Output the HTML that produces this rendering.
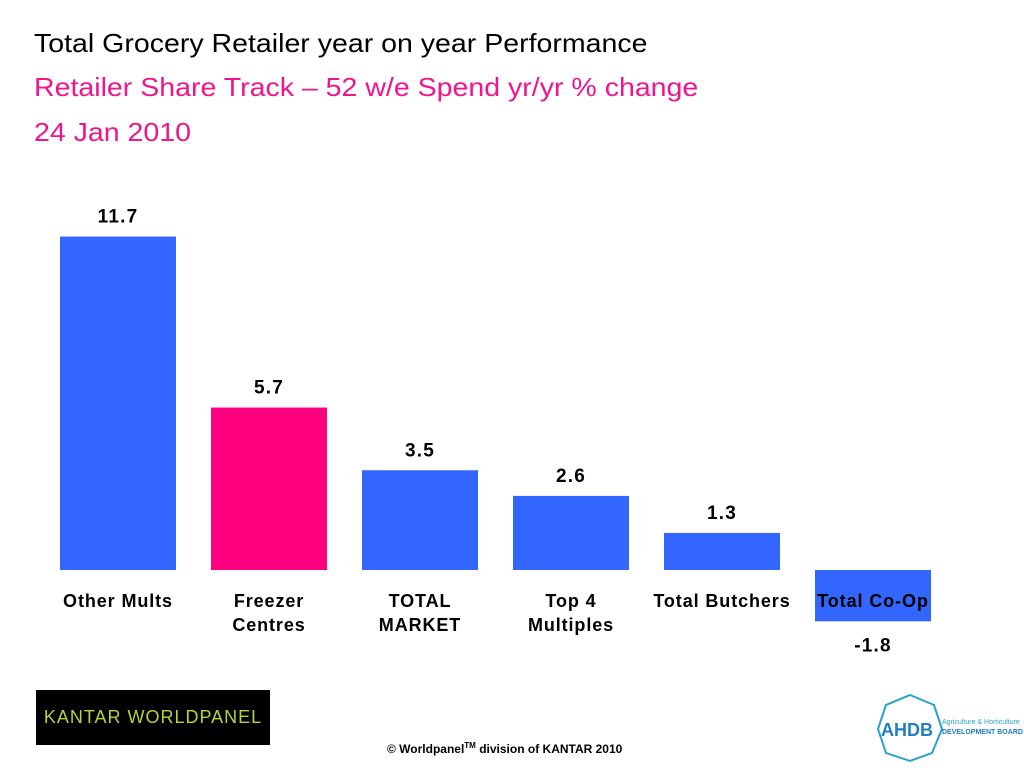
<!DOCTYPE html>
<html><head><meta charset="utf-8"><style>
body{margin:0;width:1024px;height:768px;background:#fff;font-family:"Liberation Sans",Arial,sans-serif;position:relative;overflow:hidden}
.t{position:absolute;left:34px;font-size:26px;white-space:nowrap;transform:scaleX(1.097);transform-origin:0 0}
</style></head><body>
<div class="t" style="top:28px;color:#000">Total Grocery Retailer year on year Performance</div>
<div class="t" style="top:72px;color:#f0158c">Retailer Share Track – 52 w/e Spend yr/yr % change</div>
<div class="t" style="top:117px;color:#f0158c">24 Jan 2010</div>
<svg id="chart" width="1024" height="680" style="position:absolute;left:0;top:0"></svg>
<div style="position:absolute;left:36px;top:690px;width:234px;height:55px;background:#000;color:#b5d334;font-size:18px;line-height:55px;text-align:center;letter-spacing:1px">KANTAR WORLDPANEL</div>
<div style="position:absolute;left:387px;top:741px;font-size:12px;font-weight:bold">© Worldpanel<sup style="font-size:8px">TM</sup> division of KANTAR 2010</div>
<svg width="150" height="70" style="position:absolute;left:874px;top:693px">
<polygon points="36,2 60,12 68,36 58,60 36,68 12,60 4,36 12,12" fill="none" stroke="#29a3c9" stroke-width="2"/>
<text x="7" y="43" font-size="18" font-weight="bold" fill="#1e7fc1" font-family="Liberation Sans,sans-serif">AHDB</text>
<text x="68" y="31" font-size="7" fill="#29a3c9" font-family="Liberation Sans,sans-serif">Agriculture &amp; Horticulture</text>
<text x="68" y="41" font-size="7" font-weight="bold" fill="#1e7fc1" font-family="Liberation Sans,sans-serif">DEVELOPMENT BOARD</text>
</svg>
<script>
const categories=[["Other Mults"],["Freezer","Centres"],["TOTAL","MARKET"],["Top 4","Multiples"],["Total Butchers"],["Total Co-Op"]];
const values=[11.7,5.7,3.5,2.6,1.3,-1.8];
const colors=["#3366ff","#ff0080","#3366ff","#3366ff","#3366ff","#3366ff"];
const svg=document.getElementById('chart');
const NS="http://www.w3.org/2000/svg";
const base=570,scale=28.5,x0=60,step=151,bw=116;
const y=v=>base-v*scale;
const xPos=i=>x0+i*step;
values.forEach((v,i)=>{
  const r=document.createElementNS(NS,'rect');
  r.setAttribute('x',xPos(i));r.setAttribute('width',bw);
  r.setAttribute('y',Math.min(y(v),base));r.setAttribute('height',Math.abs(v)*scale);
  r.setAttribute('fill',colors[i]);
  
  
  svg.appendChild(r);
  const t=document.createElementNS(NS,'text');
  t.setAttribute('x',xPos(i)+bw/2);
  t.setAttribute('y',v>=0?y(v)-14:y(v)+30);
  t.setAttribute('text-anchor','middle');t.setAttribute('font-size','19');t.setAttribute('font-weight','bold');
  t.setAttribute('letter-spacing','1.2');
  t.setAttribute('font-family','Liberation Sans,sans-serif');
  t.textContent=v.toFixed(1);
  
  
  svg.appendChild(t);
  categories[i].forEach((line,j)=>{
    const c=document.createElementNS(NS,'text');
    c.setAttribute('x',xPos(i)+bw/2);c.setAttribute('y',607+j*24);
    c.setAttribute('text-anchor','middle');c.setAttribute('font-size','18');c.setAttribute('font-weight','bold');
    c.setAttribute('letter-spacing','0.9');
    c.setAttribute('font-family','Liberation Sans,sans-serif');
    c.textContent=line;
    
    
    svg.appendChild(c);
  });
});
</script>
</body></html>
